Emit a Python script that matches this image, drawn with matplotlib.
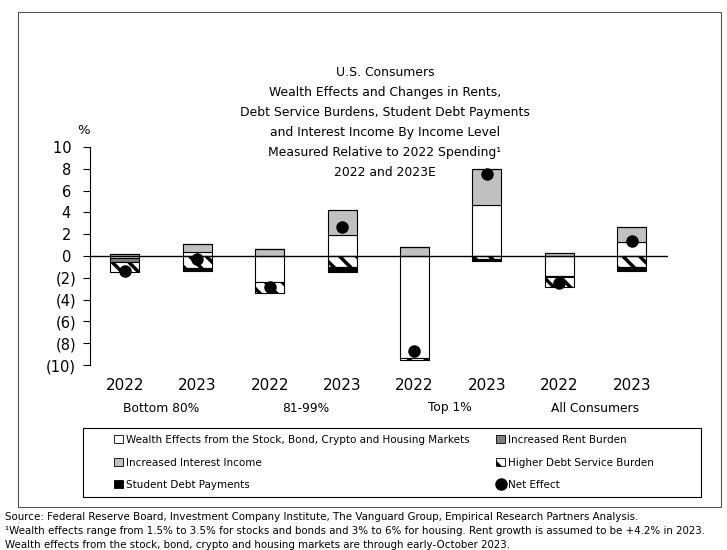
import numpy as np
import matplotlib
matplotlib.use('Agg')
import matplotlib.pyplot as plt
from matplotlib.patches import Patch, Rectangle
from matplotlib.lines import Line2D

plt.rcParams['font.family'] = ['DejaVu Sans']
plt.rcParams['hatch.linewidth'] = 2.5

# bars, in order: Bottom 80%, 81-99%, Top 1%, All Consumers (2022, 2023 each)
years = ['2022', '2023'] * 4
groups = ['Bottom 80%', '81-99%', 'Top 1%', 'All Consumers']
wealth = [-0.2, 0.4, -2.4, 1.9, -9.35, 4.7, -1.8, 1.3]
interest = [0.2, 0.7, 0.6, 2.3, 0.85, 3.3, 0.3, 1.4]
rent = [-0.35, 0.0, 0.0, 0.0, 0.0, 0.0, -0.15, 0.0]
debt_service = [-0.95, -1.1, -1.0, -1.0, -0.2, -0.3, -0.85, -1.05]
student_debt = [0.0, -0.3, 0.0, -0.45, 0.0, -0.2, 0.0, -0.3]
net_effect = [-1.4, -0.3, -2.8, 2.7, -8.75, 7.5, -2.5, 1.4]

yticks = [10, 8, 6, 4, 2, 0, -2, -4, -6, -8, -10]
# positives get a trailing punctuation space so digits line up with "(n)"
ytick_labels = ['10\u2008', '8\u2008', '6\u2008', '4\u2008', '2\u2008', '0\u2008',
                '(2)', '(4)', '(6)', '(8)', '(10)']

series = [
    ('Wealth Effects from the Stock, Bond, Crypto and Housing Markets', wealth, 'white', None),
    ('Increased Interest Income', interest, '#c0c0c0', None),
    ('Increased Rent Burden', rent, '#808080', None),
    ('Higher Debt Service Burden', debt_service, 'white', '\\\\'),
    ('Student Debt Payments', student_debt, 'black', None),
]

W, H = 727, 550
fig = plt.figure(figsize=(W / 100, H / 100), dpi=100)

def fx(px):
    return px / W

def fy(py):
    return 1 - py / H

ax = fig.add_axes([fx(90), fy(365), fx(668) - fx(90), fy(147) - fy(365)])

x = np.arange(len(years))
width = 0.4
pos_bottom = np.zeros(len(x))
neg_bottom = np.zeros(len(x))
for name, vals, color, hatch in series:
    vals = np.array(vals)
    bottom = np.where(vals >= 0, pos_bottom, neg_bottom)
    ax.bar(x, vals, width, bottom=bottom, color=color, edgecolor='black',
           linewidth=0.8, hatch=hatch, zorder=2)
    pos_bottom = pos_bottom + np.clip(vals, 0, None)
    neg_bottom = neg_bottom + np.clip(vals, None, 0)

ax.plot(x, net_effect, 'o', color='black', markersize=8, zorder=4)
ax.axhline(0, color='black', linewidth=1.0, zorder=3)

ax.set_xlim(-0.48, 7.5)
ax.set_ylim(-10, 10)
ax.set_yticks(yticks)
ax.set_yticklabels(ytick_labels, fontsize=10.5)
ax.tick_params(axis='y', direction='out', length=5, width=0.8, pad=5)
ax.set_xticks(x)
ax.set_xticklabels(years, fontsize=11)
ax.tick_params(axis='x', length=0, pad=9)
for s in ['top', 'right', 'bottom']:
    ax.spines[s].set_visible(False)
ax.spines['left'].set_linewidth(0.8)
ax.patch.set_alpha(0)

for i, g in enumerate(groups):
    fig.text(fx(125 + 72.3 * (2 * i + 0.5)), fy(408), g, ha='center', va='center', fontsize=8.8)

fig.text(fx(84), fy(130), '%', ha='center', va='center', fontsize=9.5)

title = ('U.S. Consumers\n'
         'Wealth Effects and Changes in Rents,\n'
         'Debt Service Burdens, Student Debt Payments\n'
         'and Interest Income By Income Level\n'
         'Measured Relative to 2022 Spending\u00b9\n'
         '2022 and 2023E')
fig.text(fx(385), fy(122.5), title, ha='center', va='center', fontsize=8.9, linespacing=1.7)

# outer frame and legend frame
fig.patches.append(Rectangle((fx(18), fy(507)), fx(721) - fx(18), fy(12) - fy(507),
                             transform=fig.transFigure, fill=False, edgecolor='#555555', linewidth=0.8))
fig.patches.append(Rectangle((fx(83), fy(497)), fx(701) - fx(83), fy(428) - fy(497),
                             transform=fig.transFigure, fill=False, edgecolor='black', linewidth=0.8))

handles = [
    Patch(facecolor='white', edgecolor='black', linewidth=0.6),
    Patch(facecolor='#c0c0c0', edgecolor='black', linewidth=0.6),
    Patch(facecolor='black', edgecolor='black', linewidth=0.6),
    Patch(facecolor='#808080', edgecolor='black', linewidth=0.6),
    Patch(facecolor='white', edgecolor='black', linewidth=0.6, hatch='\\\\'),
    Line2D([], [], marker='o', color='black', linestyle='none', markersize=8),
]
labels = [
    'Wealth Effects from the Stock, Bond, Crypto and Housing Markets',
    'Increased Interest Income',
    'Student Debt Payments',
    'Increased Rent Burden',
    'Higher Debt Service Burden',
    'Net Effect',
]
fig.legend(handles, labels, ncol=2, loc='center', mode='expand', frameon=False,
           bbox_to_anchor=(fx(106), fy(497), fx(662) - fx(106), fy(428) - fy(497)),
           fontsize=7.5, handlelength=0.8, handleheight=0.8, handletextpad=0.3,
           labelspacing=1.2, borderpad=0.3)

notes = [
    'Source: Federal Reserve Board, Investment Company Institute, The Vanguard Group, Empirical Research Partners Analysis.',
    '\u00b9Wealth effects range from 1.5% to 3.5% for stocks and bonds and 3% to 6% for housing. Rent growth is assumed to be +4.2% in 2023.',
    'Wealth effects from the stock, bond, crypto and housing markets are through early-October 2023.',
]
for i, line in enumerate(notes):
    fig.text(fx(5), fy(517 + 14 * i), line, ha='left', va='center', fontsize=7.4)

fig.savefig('out.png', dpi=100)
